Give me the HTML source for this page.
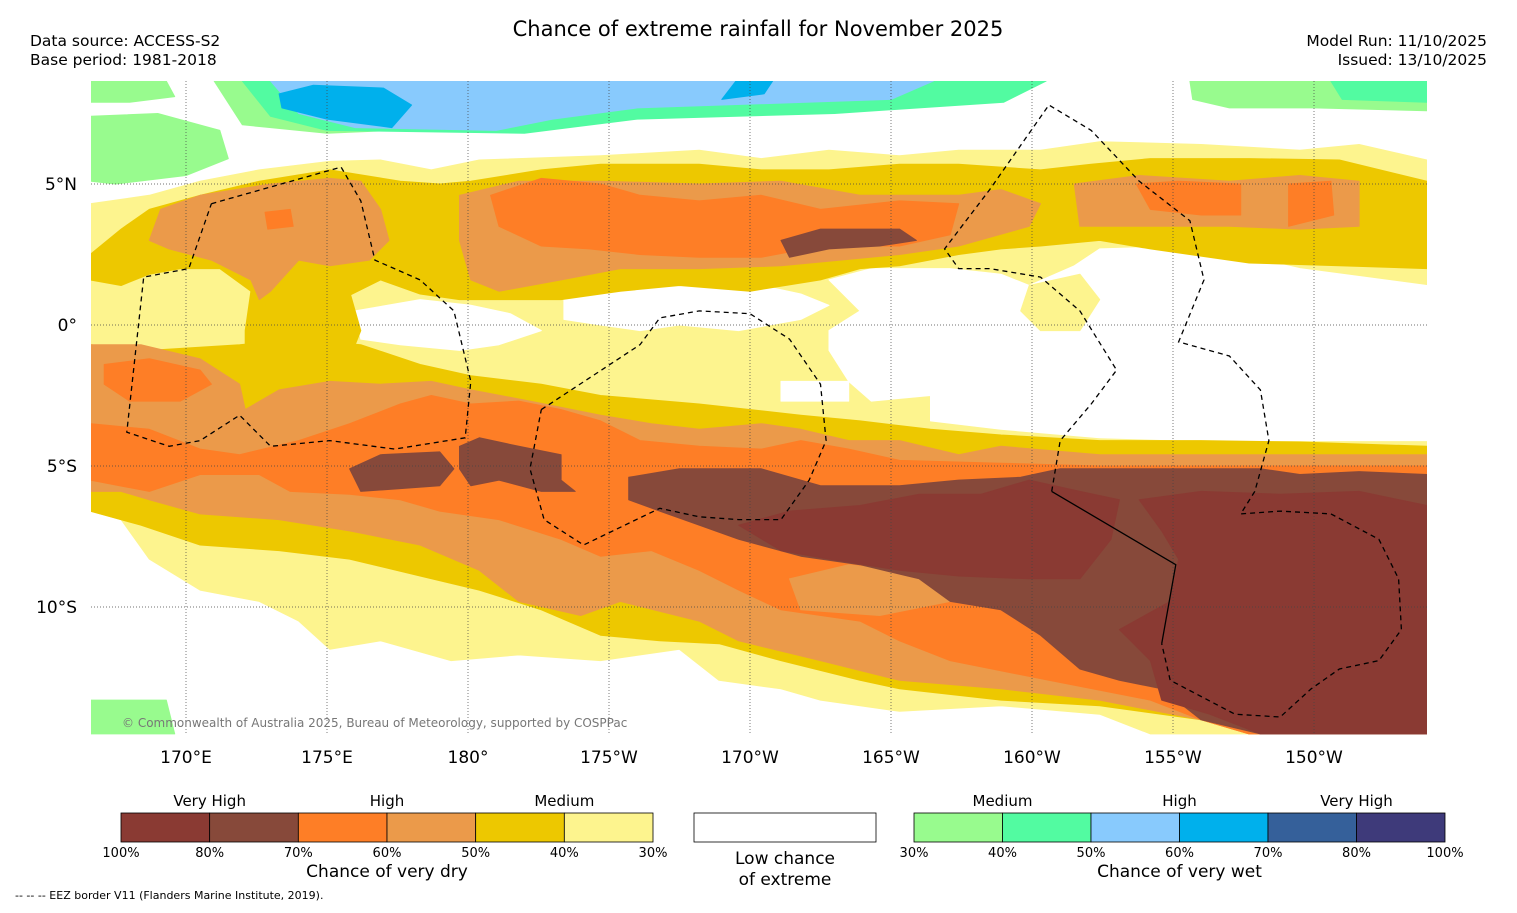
<!DOCTYPE html>
<html>
<head>
<meta charset="utf-8">
<style>
html,body{margin:0;padding:0;background:#fff;}
body{width:1517px;height:908px;overflow:hidden;font-family:"Liberation Sans","DejaVu Sans",sans-serif;}
svg text{font-family:"DejaVu Sans","Liberation Sans",sans-serif;}
</style>
</head>
<body>
<svg id="chart" width="1517" height="908" viewBox="0 0 1517 908" xmlns="http://www.w3.org/2000/svg">
  <rect x="0" y="0" width="1517" height="908" fill="#fff"/>
  <text x="758" y="36" font-size="21" text-anchor="middle" fill="#000">Chance of extreme rainfall for November 2025</text>
  <text x="30" y="46" font-size="15.5" fill="#000">Data source: ACCESS-S2</text>
  <text x="30" y="65" font-size="15.5" fill="#000">Base period: 1981-2018</text>
  <text x="1487" y="46" font-size="15.5" text-anchor="end" fill="#000">Model Run: 11/10/2025</text>
  <text x="1487" y="65" font-size="15.5" text-anchor="end" fill="#000">Issued: 13/10/2025</text>
  <defs><clipPath id="mapclip"><rect x="91" y="81" width="1336" height="654"/></clipPath></defs>
  <g id="map" clip-path="url(#mapclip)"></g>
  <g id="grid"></g>
  <g id="eez" clip-path="url(#mapclip)"></g>
  <g id="axes"></g>
  <text x="122" y="727" font-size="12" fill="#777">© Commonwealth of Australia 2025, Bureau of Meteorology, supported by COSPPac</text>
  <g id="legend"></g>
  <text x="15" y="899" font-size="11" fill="#000">--  --  -- EEZ border V11 (Flanders Marine Institute, 2019).</text>
</svg>
<script>
// ---- Axis tick data ----
const lonTicks = [170, 175, 180, 185, 190, 195, 200, 205, 210];
const lonTickLabels = ["170°E","175°E","180°","175°W","170°W","165°W","160°W","155°W","150°W"];
const latTicks = [5, 0, -5, -10];
const latTickLabels = ["5°N","0°","5°S","10°S"];

// ---- Legend data ----
const dryColors = ["#8a3a33","#87493a","#fe7e26","#eb9a4a","#edc800","#fdf48e"];
const dryTickLabels = ["100%","80%","70%","60%","50%","40%","30%"];
const dryCategoryLabels = ["Very High","High","Medium"];
const wetColors = ["#98fb8e","#52fba1","#88cafd","#00b0ec","#35609a","#3e3a7a"];
const wetTickLabels = ["30%","40%","50%","60%","70%","80%","100%"];
const wetCategoryLabels = ["Medium","High","Very High"];

// ---- Map contour data ([lon east 0-360, lat]) ----
const wetGreenTop = [[171,8.65],[182,8.65],[182,7.1],[175,6.8],[172,7.1]];
const wetTealTop = [[172,8.65],[200.5,8.65],[199,7.9],[193,7.5],[186,7.3],[182,6.8],[175,6.9],[173,7.4]];
const wetBlueTop = [[173,8.65],[196.5,8.65],[195,8.0],[186,7.7],[183,7.3],[181,6.9],[176,7.0],[174,7.5]];
const wetDeepBlueA = [[173.3,8.2],[174.5,8.5],[177,8.4],[178,7.8],[177.3,7.0],[175,7.3],[173.4,7.7]];
const wetDeepBlueB = [[189,8.0],[189.5,8.65],[190.8,8.65],[190.5,8.2]];
const wetGreenLeftA = [[166.6,8.65],[169.3,8.65],[169.6,8.1],[168,7.9],[166.6,7.9]];
const wetGreenLeftB = [[166.6,7.4],[169,7.5],[171.2,6.9],[171.5,5.9],[170,5.3],[167.5,5.0],[166.6,5.1]];
const wetGreenRight = [[205.6,8.65],[214,8.65],[214,7.6],[210,7.7],[207,7.7],[205.7,8.0]];
const wetTealRight = [[210.6,8.65],[214,8.65],[214,7.9],[211,8.0]];
const wetGreenBottom = [[166.6,-13.3],[169.3,-13.3],[169.6,-14.5],[166.6,-14.5]];

const dry30 = [[166.6,4.3],[168.7,4.6],[170.5,5.1],[172.6,5.5],[175.1,5.8],[176.9,5.85],[178.7,5.5],[180.4,5.85],[184.7,6.0],[188.2,6.2],[190.4,5.9],[192.8,6.2],[195.3,6.0],[197.4,6.2],[200.3,6.2],[202.4,6.5],[206.0,6.4],[209.5,6.2],[211.6,6.4],[214,5.85],[214,-14.5],[204.2,-14.5],[202.4,-13.8],[198.9,-13.5],[195.3,-13.7],[192.5,-13.3],[191.1,-12.9],[188.9,-12.6],[187.5,-11.5],[184.7,-11.9],[181.8,-11.7],[179.4,-11.9],[176.9,-11.2],[175.1,-11.5],[174.0,-10.5],[172.6,-9.8],[170.5,-9.4],[168.7,-8.3],[167.7,-6.9],[166.6,-6.6]];
const lowHole1 = [[176.0,0.5],[178.3,0.9],[180.1,0.7],[181.5,0.4],[182.6,-0.2],[181.1,-0.7],[179.7,-0.9],[177.6,-0.7],[176.2,-0.5]];
const lowHole2 = [[183.4,0.9],[184.7,1.4],[187.5,1.6],[190.4,1.4],[191.8,1.1],[192.8,0.7],[191.8,0.2],[189.6,-0.2],[187.5,0],[186.1,-0.2],[184.7,0],[183.4,0.2]];
const lowHole3 = [[192.8,1.6],[194.3,2.0],[197.1,2.0],[198.9,1.8],[199.9,1.4],[201.5,2.1],[202.4,2.7],[206.0,2.8],[209.5,2.0],[214,1.4],[214,-4.1],[209.5,-4.1],[206,-4.1],[202.4,-4.0],[198.9,-3.7],[196.4,-3.4],[196.4,-2.5],[194.3,-2.7],[193.5,-2.0],[192.8,-0.9],[192.8,-0.2],[193.9,0.5]];
const lowHole4 = [[191.1,-2.0],[193.5,-2.0],[193.5,-2.7],[191.1,-2.7]];
const dry30Patch = [[199.9,1.4],[201.7,1.8],[202.4,0.9],[201.7,-0.2],[200.3,-0.2],[199.6,0.5]];

const dry40North = [[166.6,2.5],[167.7,3.4],[168.7,4.1],[170.5,4.6],[172.6,5.1],[175.1,5.5],[177.6,5.1],[179.0,5.0],[180.1,5.1],[182.6,5.5],[184.7,5.7],[188.2,5.7],[190.4,5.5],[192.8,5.5],[195.3,5.7],[197.4,5.7],[200.3,5.5],[202.1,5.7],[204.2,5.9],[207.7,5.9],[210.9,5.85],[214,5.1],[214,2.0],[210.9,2.1],[207.7,2.2],[204.2,2.7],[202.4,3.0],[200.3,2.8],[198.9,2.7],[197.4,2.5],[195.3,2.1],[193.9,2.0],[192.5,1.6],[190,1.2],[187.5,1.4],[185.4,1.2],[183.3,0.9],[181.1,0.9],[179.7,0.9],[178.3,1.1],[176.9,1.6],[175.5,0.9],[174.0,0.5],[173.0,0.9],[172.3,1.2],[171.2,2.0],[169.8,2.0],[168.7,1.8],[167.7,1.4],[166.6,1.6]];
const dry40Link = [[172.3,1.2],[175.8,1.2],[176.2,-0.2],[175.8,-1.2],[172.1,-2.0],[172.1,-0.2]];
const dry40South = [[166.6,-0.7],[168.7,-0.9],[171.9,-0.7],[174.0,-0.5],[176.2,-0.7],[178.3,-1.4],[180.1,-1.8],[182.6,-2.1],[184.7,-2.5],[188.2,-2.8],[191.8,-3.2],[193.9,-3.4],[196.4,-3.7],[198.9,-3.9],[202.4,-4.1],[206,-4.1],[209.5,-4.15],[214,-4.3],[214,-14.5],[207.7,-14.5],[206,-14.0],[202.4,-13.5],[198.9,-13.3],[195.3,-12.9],[193.9,-12.6],[191.1,-11.9],[188.9,-11.3],[186.8,-11.2],[184.7,-11.0],[182.6,-10.1],[180.4,-9.4],[178.3,-8.9],[175.8,-8.3],[173.3,-8.0],[170.5,-7.8],[168.4,-7.1],[166.6,-6.6]];

const dry50North1 = [[169.1,4.1],[170.5,4.6],[173.0,5.0],[175.1,5.2],[176.2,5.1],[176.9,4.1],[177.2,3.0],[176.5,2.3],[175.1,2.1],[174.0,2.3],[173.0,1.2],[172.6,0.9],[172.3,1.6],[170.9,2.3],[169.4,2.7],[168.7,3.0]];
const dry50North2 = [[179.7,4.6],[181.8,5.1],[184.7,5.1],[188.2,5.0],[191.1,5.1],[193.9,4.6],[197.4,4.6],[198.9,4.8],[200.3,4.3],[199.9,3.5],[197.4,2.8],[195.3,2.5],[193.2,2.3],[191.1,2.1],[188.2,2.0],[185.4,2.0],[183.3,1.6],[181.1,1.2],[180.1,1.6],[179.7,3.0]];
const dry50North3 = [[201.5,5.0],[203.8,5.3],[207.0,5.1],[209.5,5.3],[211.6,5.1],[211.6,3.5],[209.5,3.4],[207.0,3.5],[204.2,3.5],[201.7,3.5]];
const dry50South = [[166.6,-0.7],[168.4,-0.7],[170.5,-1.2],[171.9,-2.1],[172.1,-3.0],[173.3,-2.3],[175.1,-2.0],[176.9,-2.1],[178.7,-2.0],[180.1,-2.3],[182.2,-2.7],[184.7,-3.2],[186.5,-3.5],[188.2,-3.7],[190.4,-3.5],[191.8,-3.7],[193.5,-4.1],[195.3,-4.1],[197.4,-4.6],[198.9,-4.3],[202.4,-4.6],[206,-4.6],[209.5,-4.6],[214,-4.6],[214,-14.5],[207.7,-14.5],[206,-14.0],[202.4,-13.3],[198.9,-12.9],[195.3,-12.6],[192.5,-11.9],[189.6,-11.2],[188.2,-10.5],[185.4,-9.8],[184.0,-10.3],[181.8,-9.8],[180.4,-8.7],[178.3,-7.8],[175.8,-7.3],[173.3,-6.9],[170.5,-6.7],[168.7,-6.2],[167.7,-5.9],[166.6,-5.9]];

const dry60North1 = [[180.8,4.6],[182.6,5.2],[184.7,5.0],[186.1,4.6],[188.2,4.4],[190.4,4.6],[192.5,4.1],[195.3,4.4],[197.4,4.3],[197.1,3.2],[195.3,2.8],[192.5,2.8],[190.4,2.4],[188.2,2.4],[186.1,2.5],[184.3,2.7],[182.6,2.8],[181.1,3.5]];
const dry60North2 = [[203.7,5.0],[205.2,5.1],[207.4,5.0],[207.4,3.9],[206,3.9],[204.2,4.1]];
const dry60North3 = [[209.1,5.0],[210.6,5.1],[210.7,3.9],[209.1,3.5]];
const dry60North4 = [[172.8,4.0],[173.7,4.1],[173.8,3.5],[172.9,3.4]];
const dry60South = [[166.6,-3.5],[168.7,-3.7],[170.5,-4.4],[171.9,-4.6],[174.0,-4.1],[175.8,-3.5],[177.6,-2.8],[178.7,-2.5],[180.1,-2.8],[181.8,-2.7],[183.3,-3.0],[184.7,-3.4],[186.1,-4.1],[188.2,-4.3],[190.4,-4.4],[191.8,-4.1],[193.5,-4.4],[195.3,-4.8],[198.9,-4.9],[202.4,-5.0],[214,-5.0],[214,-14.5],[207.7,-14.5],[206,-14.0],[204.2,-13.3],[200.6,-12.6],[197.1,-11.9],[195.3,-11.2],[193.9,-10.5],[191.1,-10.1],[189.6,-9.4],[188.2,-8.7],[186.5,-8.0],[184.7,-8.2],[183.3,-7.6],[181.1,-6.9],[179.0,-6.6],[177.6,-6.2],[175.8,-6.0],[173.7,-5.9],[172.6,-5.3],[170.5,-5.3],[168.7,-5.9],[166.6,-5.5]];
const dry60Left = [[167.1,-1.4],[168.7,-1.2],[170.5,-1.6],[170.9,-2.1],[169.8,-2.7],[168.0,-2.7],[167.1,-2.1]];
const dry50Inner = [[191.4,-9.0],[193.5,-8.5],[196.8,-8.9],[197.1,-9.8],[194.6,-10.3],[191.8,-10.1]];

const dry70North = [[191.1,3.0],[192.5,3.4],[195.3,3.4],[195.9,3.0],[194.6,2.8],[192.8,2.7],[191.4,2.4]];
const dry70A = [[175.8,-5.1],[176.9,-4.6],[179.0,-4.5],[179.5,-5.1],[179.0,-5.7],[177.6,-5.8],[176.2,-5.9]];
const dry70B = [[179.7,-4.3],[180.4,-4.0],[181.8,-4.3],[183.3,-4.6],[183.3,-5.5],[183.8,-5.9],[182.6,-5.9],[181.1,-5.5],[180.1,-5.7],[179.7,-5.1]];
const dry70C = [[185.7,-5.4],[187.5,-5.1],[190.4,-5.1],[192.5,-5.7],[195.3,-5.7],[197.4,-5.5],[199.6,-5.4],[201.0,-5.1],[202.4,-5.1],[204.2,-5.1],[206,-5.1],[208.1,-5.1],[209.5,-5.3],[211.6,-5.2],[214,-5.3],[214,-14.5],[208.1,-14.5],[206,-14.0],[204.6,-12.9],[203.1,-12.6],[201.7,-12.2],[200.3,-11.0],[198.9,-10.1],[197.1,-9.8],[196.0,-9.0],[193.9,-8.5],[191.8,-8.2],[189.6,-7.6],[188.2,-7.1],[186.8,-6.6],[185.7,-6.2]];
const dry80A = [[189.6,-7.1],[191.4,-6.6],[193.9,-6.4],[196.0,-6.0],[198.2,-6.0],[199.9,-5.5],[201.7,-5.9],[203.1,-6.2],[202.8,-7.6],[201.7,-9.0],[199.9,-9.0],[197.4,-8.9],[195.3,-8.7],[192.8,-8.3],[191.1,-8.0]];
const dry80B = [[203.8,-6.2],[206,-5.9],[208.8,-6.0],[211.6,-5.9],[214,-6.4],[214,-14.5],[208.1,-14.5],[206.3,-13.8],[204.6,-13.3],[204.2,-11.9],[203.1,-10.8],[204.9,-9.8],[205.2,-8.3],[204.6,-7.3]];

const eezGilbert = [[170.9,4.3],[175.5,5.6],[176.2,4.4],[176.7,2.3],[178.3,1.6],[179.5,0.5],[180.1,-2.0],[179.9,-4.0],[177.4,-4.4],[175.1,-4.1],[173.0,-4.3],[171.9,-3.2],[170.5,-4.1],[169.4,-4.3],[167.9,-3.8],[168.5,1.7],[170.1,2.0],[170.9,4.3]];
const eezPhoenix = [[182.6,-3.0],[186.1,-0.7],[186.8,0.25],[188.2,0.5],[190,0.4],[191.4,-0.5],[192.5,-2.1],[192.7,-4.1],[192.1,-5.5],[191.1,-6.9],[189.6,-6.9],[188.2,-6.8],[186.8,-6.5],[184.1,-7.8],[182.7,-6.9],[182.2,-5.1],[182.6,-3.0]];
const eezLine = [[200.7,-5.9],[201.0,-4.1],[202.1,-2.8],[203.0,-1.6],[201.7,0.5],[200.3,1.7],[198.5,2.0],[197.4,2.0],[196.9,2.7],[198.5,4.8],[200.6,7.8],[202.1,6.9],[203.8,5.1],[205.6,3.7],[206.1,1.6],[205.2,-0.6],[207.0,-1.1],[208.1,-2.3],[208.4,-4.1],[207.9,-5.9],[207.4,-6.7],[208.8,-6.6],[210.6,-6.7],[212.3,-7.6],[213.0,-9.0],[213.1,-10.8],[212.3,-11.9],[210.9,-12.2],[209.9,-12.9],[208.8,-13.9],[207.2,-13.8],[204.9,-12.6],[204.6,-11.3]];
const eezSolid = [[200.7,-5.9],[205.1,-8.5],[204.6,-11.3]];

// ---- Projection ----
const X0 = 186, LON0 = 170, PX_PER_DEG = 28.2, Y0 = 325;
function xScale(lon){ return X0 + (lon - LON0) * PX_PER_DEG; }
function yScale(lat){ return Y0 - lat * PX_PER_DEG; }
function pts(arr){ return arr.map(p => xScale(p[0]).toFixed(1) + "," + yScale(p[1]).toFixed(1)).join(" "); }

const NS = "http://www.w3.org/2000/svg";
const mapG = document.getElementById("map");
function poly(arr, fill, name){
  const el = document.createElementNS(NS, "polygon");
  el.setAttribute("points", pts(arr));
  el.setAttribute("fill", fill);
  el.setAttribute("stroke", fill);
  el.setAttribute("stroke-width", "1");
  el.setAttribute("stroke-linejoin", "round");
  
  
  mapG.appendChild(el);
}
const C = {d100:dryColors[0], d80:dryColors[1], d70:dryColors[2], d60:dryColors[3], d50:dryColors[4], d40:dryColors[5],
  w30:wetColors[0], w40:wetColors[1], w50:wetColors[2], w60:wetColors[3]};

poly(wetGreenTop, C.w30, "wet-30-region");
poly(wetTealTop, C.w40, "wet-40-region");
poly(wetBlueTop, C.w50, "wet-50-region");
poly(wetDeepBlueA, C.w60, "wet-60-region");
poly(wetDeepBlueB, C.w60, "wet-60-region");
poly(wetGreenLeftA, C.w30, "wet-30-region");
poly(wetGreenLeftB, C.w30, "wet-30-region");
poly(wetGreenRight, C.w30, "wet-30-region");
poly(wetTealRight, C.w40, "wet-40-region");
poly(wetGreenBottom, C.w30, "wet-30-region");

poly(dry30, C.d40, "dry-30-region");
poly(lowHole1, "#ffffff", "low-chance-region");
poly(lowHole2, "#ffffff", "low-chance-region");
poly(lowHole3, "#ffffff", "low-chance-region");
poly(lowHole4, "#ffffff", "low-chance-region");
poly(dry30Patch, C.d40, "dry-30-region");
poly(dry40North, C.d50, "dry-40-region");
poly(dry40Link, C.d50, "dry-40-region");
poly(dry40South, C.d50, "dry-40-region");
poly(dry50North1, C.d60, "dry-50-region");
poly(dry50North2, C.d60, "dry-50-region");
poly(dry50North3, C.d60, "dry-50-region");
poly(dry50South, C.d60, "dry-50-region");
poly(dry60North1, C.d70, "dry-60-region");
poly(dry60North2, C.d70, "dry-60-region");
poly(dry60North3, C.d70, "dry-60-region");
poly(dry60North4, C.d70, "dry-60-region");
poly(dry60South, C.d70, "dry-60-region");
poly(dry60Left, C.d70, "dry-60-region");
poly(dry50Inner, C.d60, "dry-50-region");
poly(dry70North, C.d80, "dry-70-region");
poly(dry70A, C.d80, "dry-70-region");
poly(dry70B, C.d80, "dry-70-region");
poly(dry70C, C.d80, "dry-70-region");
poly(dry80A, C.d100, "dry-80-region");
poly(dry80B, C.d100, "dry-80-region");

// ---- EEZ borders ----
const eezG = document.getElementById("eez");
function line(arr, dashed, name){
  const el = document.createElementNS(NS, "polyline");
  el.setAttribute("points", pts(arr));
  el.setAttribute("fill", "none");
  el.setAttribute("stroke", "#000");
  el.setAttribute("stroke-width", "1.3");
  if (dashed) el.setAttribute("stroke-dasharray", "5,4");
  
  
  eezG.appendChild(el);
}
line(eezGilbert, true, "eez-border-gilbert");
line(eezPhoenix, true, "eez-border-phoenix");
line(eezLine, true, "eez-border-line-islands");
line(eezSolid, false, "eez-border-solid");

// ---- Gridlines & axis labels ----
const gridG = document.getElementById("grid");
const axesG = document.getElementById("axes");
lonTicks.forEach((lon, i) => {
  const x = xScale(lon);
  const g = document.createElementNS(NS, "line");
  g.setAttribute("x1", x); g.setAttribute("x2", x);
  g.setAttribute("y1", 81); g.setAttribute("y2", 735);
  g.setAttribute("stroke", "#444"); g.setAttribute("stroke-width", "0.7");
  g.setAttribute("stroke-dasharray", "1,2");
  
  
  gridG.appendChild(g);
  const t = document.createElementNS(NS, "text");
  t.setAttribute("x", x); t.setAttribute("y", 763);
  t.setAttribute("font-size", "17"); t.setAttribute("text-anchor", "middle");
  t.textContent = lonTickLabels[i];
  
  
  axesG.appendChild(t);
});
latTicks.forEach((lat, i) => {
  const y = yScale(lat);
  const g = document.createElementNS(NS, "line");
  g.setAttribute("x1", 91); g.setAttribute("x2", 1427);
  g.setAttribute("y1", y); g.setAttribute("y2", y);
  g.setAttribute("stroke", "#444"); g.setAttribute("stroke-width", "0.7");
  g.setAttribute("stroke-dasharray", "1,2");
  
  
  gridG.appendChild(g);
  const t = document.createElementNS(NS, "text");
  t.setAttribute("x", 77); t.setAttribute("y", y + 6);
  t.setAttribute("font-size", "17"); t.setAttribute("text-anchor", "end");
  t.textContent = latTickLabels[i];
  
  
  axesG.appendChild(t);
});

// ---- Legend ----
const legG = document.getElementById("legend");
function txt(x, y, s, size, anchor, name){
  const t = document.createElementNS(NS, "text");
  t.setAttribute("x", x); t.setAttribute("y", y);
  t.setAttribute("font-size", size); t.setAttribute("text-anchor", anchor);
  t.textContent = s;
  
  
  legG.appendChild(t);
}
function colorbar(x0, x1, colors, ticks, cats, title, prefix){
  const w = (x1 - x0) / colors.length;
  colors.forEach((c, i) => {
    const r = document.createElementNS(NS, "rect");
    r.setAttribute("x", x0 + i * w); r.setAttribute("y", 813);
    r.setAttribute("width", w); r.setAttribute("height", 29);
    r.setAttribute("fill", c); r.setAttribute("stroke", "#000"); r.setAttribute("stroke-width", "0.8");
    
    
    legG.appendChild(r);
  });
  ticks.forEach((s, i) => txt(x0 + i * w, 857, s, 13, "middle", prefix + "-tick-label"));
  cats.forEach((s, i) => txt(x0 + (2 * i + 1) * w, 806, s, 15, "middle", prefix + "-category-label"));
  txt((x0 + x1) / 2, 877, title, 17, "middle", prefix + "-colorbar-title");
}
colorbar(121, 653, dryColors, dryTickLabels, dryCategoryLabels, "Chance of very dry", "dry");
colorbar(914, 1445, wetColors, wetTickLabels, wetCategoryLabels, "Chance of very wet", "wet");
const lowBox = document.createElementNS(NS, "rect");
lowBox.setAttribute("x", 694); lowBox.setAttribute("y", 813);
lowBox.setAttribute("width", 182); lowBox.setAttribute("height", 29);
lowBox.setAttribute("fill", "#fff"); lowBox.setAttribute("stroke", "#000"); lowBox.setAttribute("stroke-width", "0.8");


legG.appendChild(lowBox);
txt(785, 864, "Low chance", 17, "middle", "low-chance-label");
txt(785, 885, "of extreme", 17, "middle", "low-chance-label");
</script>
</body>
</html>
